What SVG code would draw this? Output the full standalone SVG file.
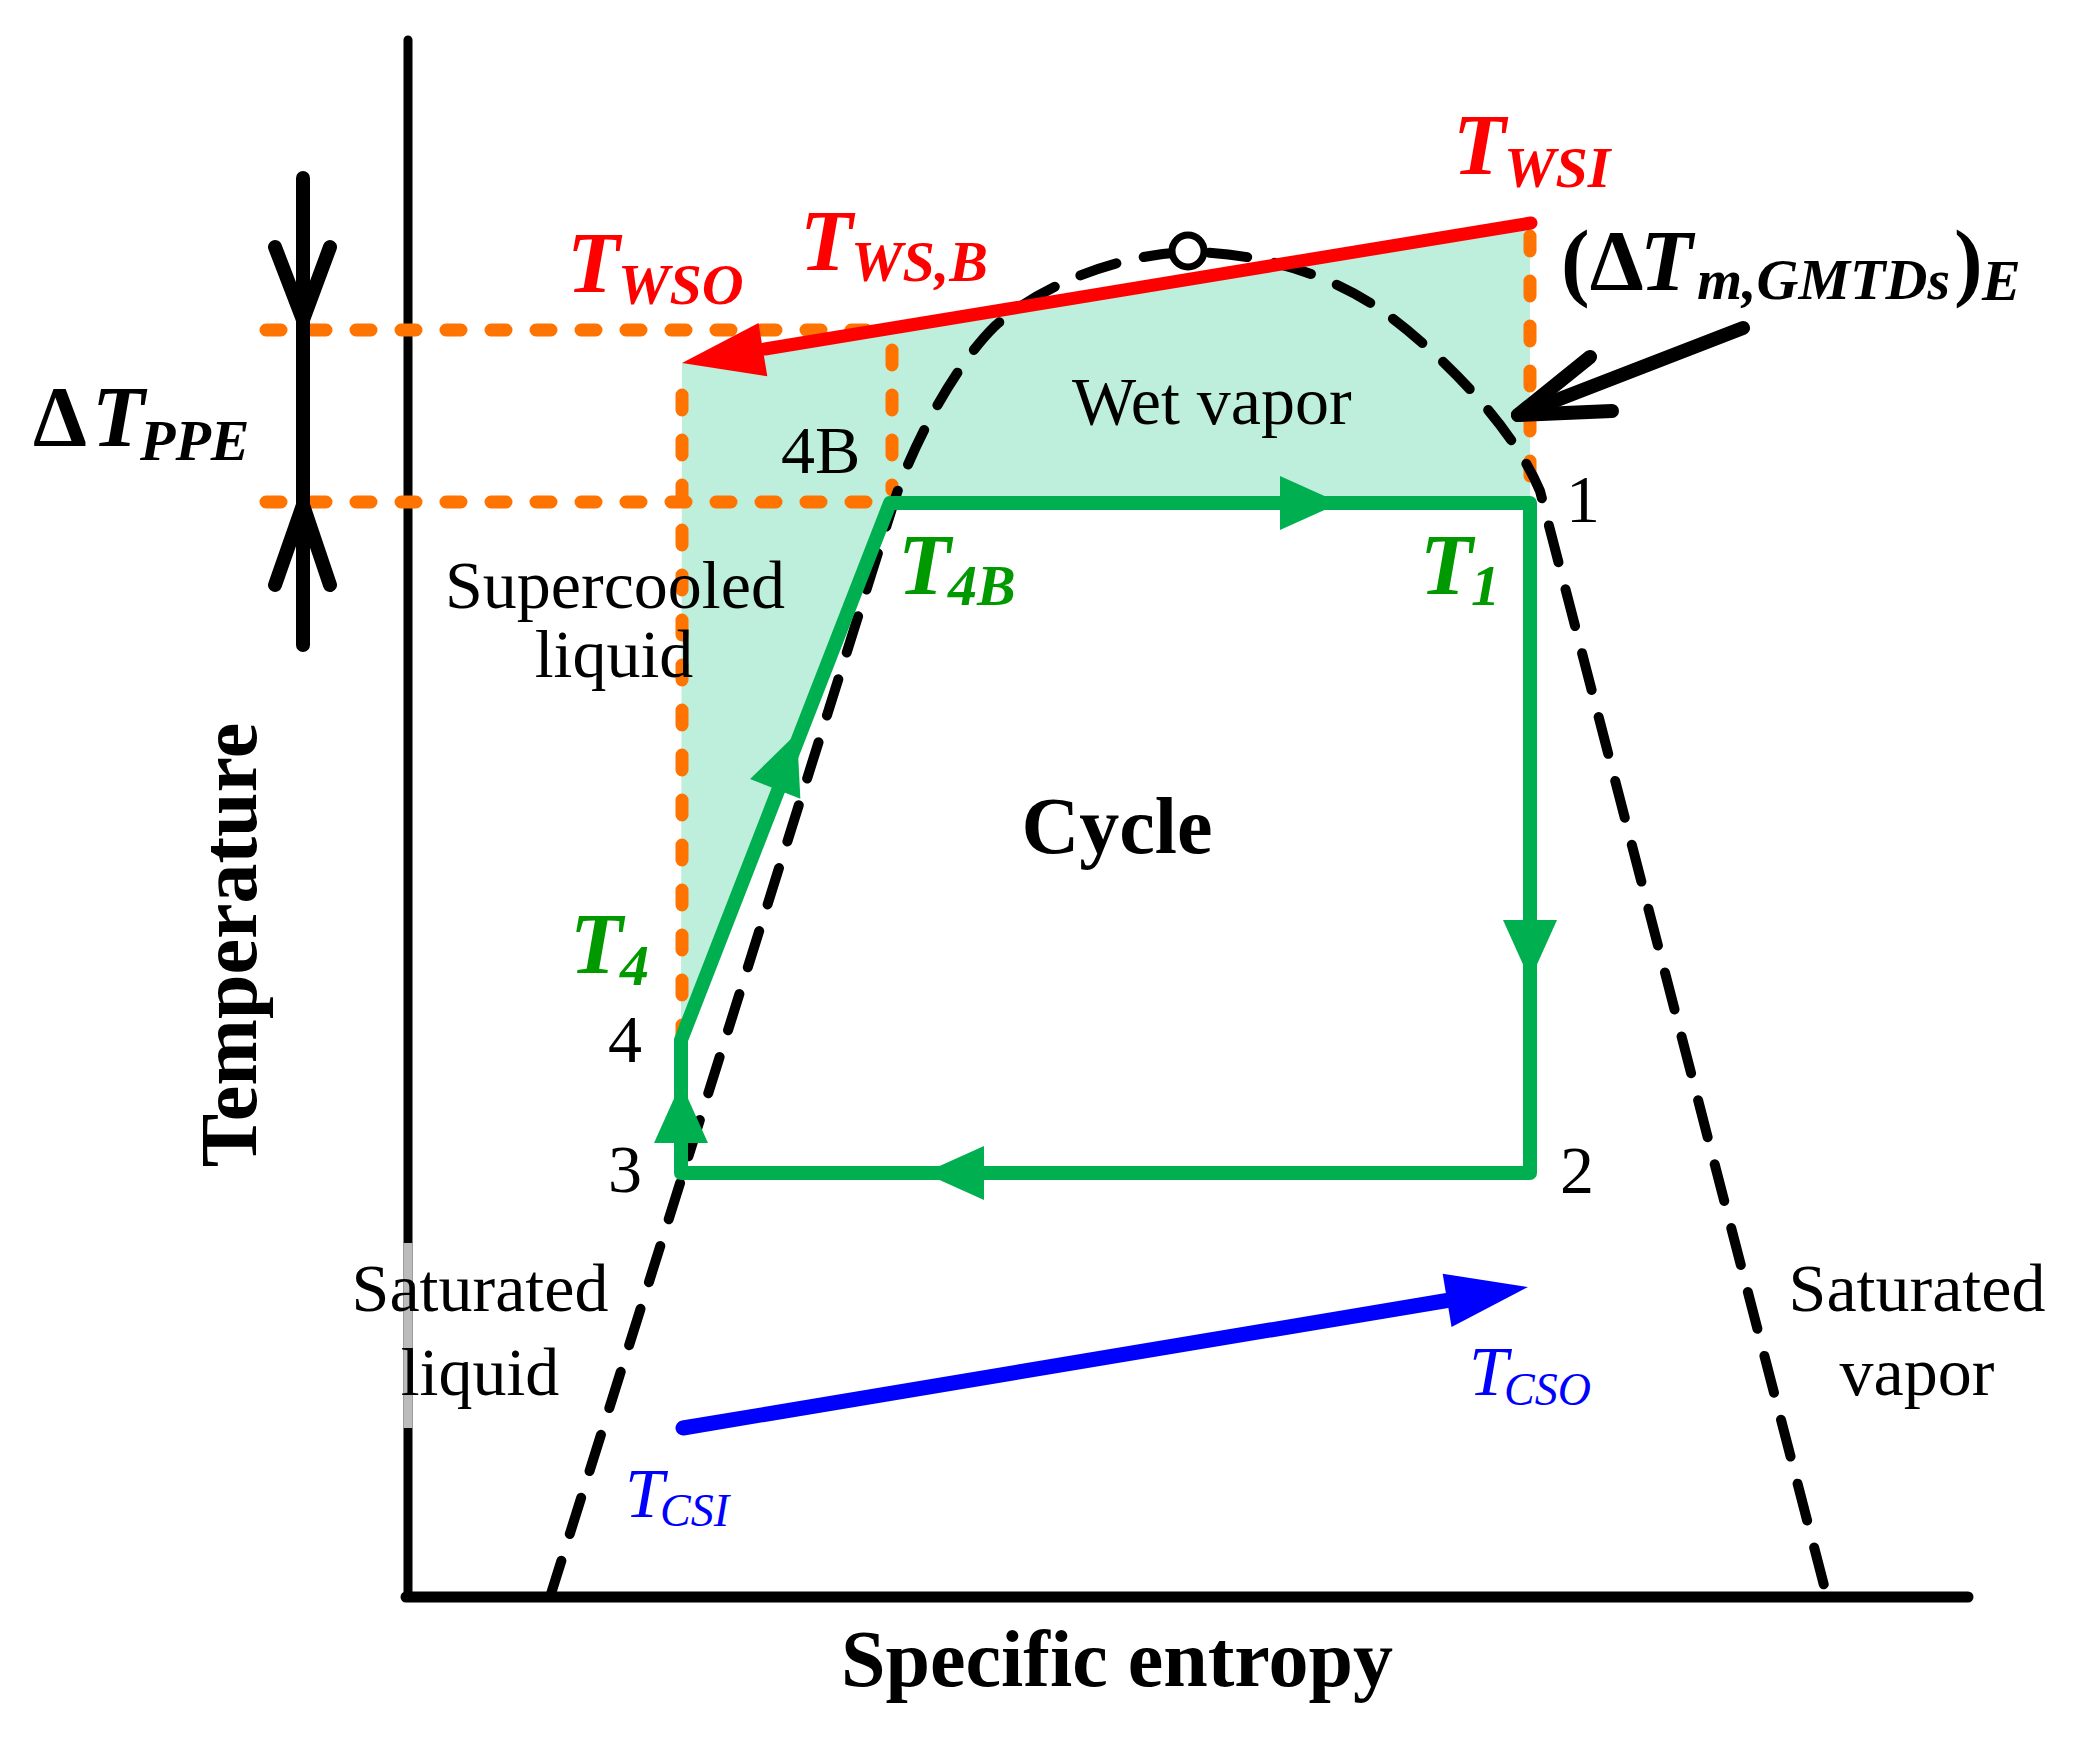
<svg xmlns="http://www.w3.org/2000/svg" xmlns:xlink="http://www.w3.org/1999/xlink" width="2099" height="1746" viewBox="0 0 2099 1746">
<style>
  text { font-family: "Liberation Serif", "Times New Roman", serif; }
  .lbl { font-size: 68px; fill: #000; }
  .ttl { font-size: 80px; font-weight: bold; fill: #000; }
  .tm { font-size: 86px; font-weight: bold; font-style: italic; }
  .sb { font-size: 58px; font-weight: bold; font-style: italic; }
  .red { fill: #FF0000; }
  .grn { fill: #009900; }
  .org { fill: none; stroke: #FF7300; stroke-width: 13; stroke-linecap: round; stroke-dasharray: 15 30; }
  .dome { fill: none; stroke: #000; stroke-width: 10; stroke-linecap: round; stroke-dasharray: 38 28; }
  .cyc { fill: none; stroke: #00B050; stroke-width: 14; stroke-linejoin: round; }
  .blk { fill: none; stroke: #000; stroke-width: 14; stroke-linecap: round; }
</style>
<defs>
  <path id="gtri" d="M0,0 L-60,-27 L-60,27 Z" fill="#00B050"/>
  <path id="head" d="M0,0 L-82,-27 L-82,27 Z"/>
</defs>
<rect width="2099" height="1746" fill="#fff"/>

<g id="region-fill">
  <polygon points="682,363 1530,223 1530,503 890,503 681,1040" fill="#BEEEDC"/>
</g>

<g id="axes">
  <line x1="408" y1="40" x2="408" y2="1597" stroke="#000" stroke-width="9" stroke-linecap="round"/>
  <line x1="408" y1="1243" x2="408" y2="1428" stroke="#BBBBBB" stroke-width="9"/>
  <line x1="406" y1="1597" x2="1968" y2="1597" stroke="#000" stroke-width="11" stroke-linecap="round"/>
</g>

<g id="connectors">
  <g id="guides">
    <path class="org" d="M266,330 L878,330"/>
    <path class="org" d="M266,502 L878,502"/>
    <path class="org" d="M682,395 L682,1036"/>
    <path class="org" d="M892,350 L892,490"/>
    <path class="org" d="M1530,236 L1530,490"/>
  </g>

  <g id="dome">
    <path class="dome" d="M550,1597 L894,502 C912,445 955,365 995,326 C1035,290 1110,255 1188,252 C1260,252 1330,275 1378,308 C1430,344 1510,420 1540,491 L1827,1597"/>
    <circle cx="1188" cy="251" r="16" fill="#fff" stroke="#000" stroke-width="7"/>
  </g>

  <g id="hot-stream">
    <line x1="1531" y1="223" x2="765" y2="349" stroke="#FF0000" stroke-width="13" stroke-linecap="round"/>
    <use xlink:href="#head" href="#head" fill="#FF0000" transform="translate(682,363) rotate(170.64)"/>
  </g>

  <g id="cycle">
    <path class="cyc" d="M681,1173 L681,1040 L890,503 L1530,503 L1530,1173 Z"/>
    <use xlink:href="#gtri" href="#gtri" transform="translate(1340,503)"/>
    <use xlink:href="#gtri" href="#gtri" transform="translate(1530,980) rotate(90)"/>
    <use xlink:href="#gtri" href="#gtri" transform="translate(924,1173) rotate(180)"/>
    <use xlink:href="#gtri" href="#gtri" transform="translate(681,1083) rotate(-90)"/>
    <use xlink:href="#gtri" href="#gtri" transform="translate(797,733) rotate(-68.7)"/>
  </g>

  <g id="cold-stream">
    <line x1="683" y1="1428" x2="1450" y2="1300" stroke="#0000FF" stroke-width="15" stroke-linecap="round"/>
    <use xlink:href="#head" href="#head" fill="#0000FF" transform="translate(1528,1287) rotate(-9.47)"/>
  </g>

  <g id="pointer-arrow">
    <path class="blk" d="M1743,328 L1518,415" stroke-width="15"/>
    <path class="blk" d="M1590,357 L1518,415 L1612,411" stroke-width="15" stroke-linejoin="round"/>
  </g>

  <g id="dim-ppe">
    <line class="blk" x1="303" y1="178" x2="303" y2="645" stroke-width="13"/>
    <path class="blk" d="M275,247 L303,320 L330,247" stroke-width="13"/>
    <path class="blk" d="M275,585 L303,505 L330,585" stroke-width="13"/>
  </g>
</g>

<g id="labels">
  <g id="t-wso"><text class="red"><tspan class="tm" x="567" y="292">T</tspan><tspan class="sb" x="618" y="304">WSO</tspan></text></g>
  <g id="t-wsb"><text class="red"><tspan class="tm" x="800" y="270">T</tspan><tspan class="sb" x="851" y="281">WS,B</tspan></text></g>
  <g id="t-wsi"><text class="red"><tspan class="tm" x="1453" y="174">T</tspan><tspan class="sb" x="1504" y="187">WSI</tspan></text></g>
  <g id="dtm"><text fill="#000"><tspan x="1561" y="290" style="font-size:86px;font-weight:bold">(Δ</tspan><tspan class="tm" x="1640" y="290">T</tspan><tspan class="sb" x="1697" y="299">m,GMTDs</tspan><tspan x="1954" y="290" style="font-size:86px;font-weight:bold">)</tspan><tspan class="sb" x="1982" y="300">E</tspan></text></g>
  <g id="dt-ppe"><text fill="#000"><tspan x="33" y="446" style="font-size:86px;font-weight:bold">Δ</tspan><tspan class="tm" x="92" y="446">T</tspan><tspan class="sb" x="140" y="460">PPE</tspan></text></g>
  <g id="t-4b"><text class="grn"><tspan class="tm" x="898" y="594">T</tspan><tspan class="sb" x="948" y="605">4B</tspan></text></g>
  <g id="t-1"><text class="grn"><tspan class="tm" x="1420" y="594">T</tspan><tspan class="sb" x="1471" y="605">1</tspan></text></g>
  <g id="t-4"><text class="grn"><tspan class="tm" x="570" y="973">T</tspan><tspan class="sb" x="620" y="985">4</tspan></text></g>
  <g id="t-cso"><text fill="#0000FF" style="font-style:italic"><tspan x="1469" y="1395" style="font-size:70px">T</tspan><tspan x="1504" y="1405" style="font-size:46px">CSO</tspan></text></g>
  <g id="t-csi"><text fill="#0000FF" style="font-style:italic"><tspan x="625" y="1517" style="font-size:70px">T</tspan><tspan x="660" y="1526" style="font-size:46px">CSI</tspan></text></g>

  <text class="lbl" x="781" y="473">4B</text>
  <text class="lbl" x="1072" y="424">Wet vapor</text>
  <text class="lbl" text-anchor="middle" x="615" y="608">Supercooled</text>
  <text class="lbl" text-anchor="middle" x="614" y="677">liquid</text>
  <text class="lbl" x="1566" y="522">1</text>
  <text class="lbl" x="1560" y="1193">2</text>
  <text class="lbl" x="608" y="1192">3</text>
  <text class="lbl" x="608" y="1062">4</text>
  <text class="lbl" text-anchor="middle" x="480" y="1311">Saturated</text>
  <text class="lbl" text-anchor="middle" x="480" y="1395">liquid</text>
  <text class="lbl" text-anchor="middle" x="1917" y="1311">Saturated</text>
  <text class="lbl" text-anchor="middle" x="1917" y="1395">vapor</text>
  <text class="ttl" x="1117" y="853" text-anchor="middle">Cycle</text>
  <text class="ttl" x="1117" y="1686" text-anchor="middle">Specific entropy</text>
  <text class="ttl" text-anchor="middle" transform="translate(256,945) rotate(-90)">Temperature</text>
</g>
</svg>
